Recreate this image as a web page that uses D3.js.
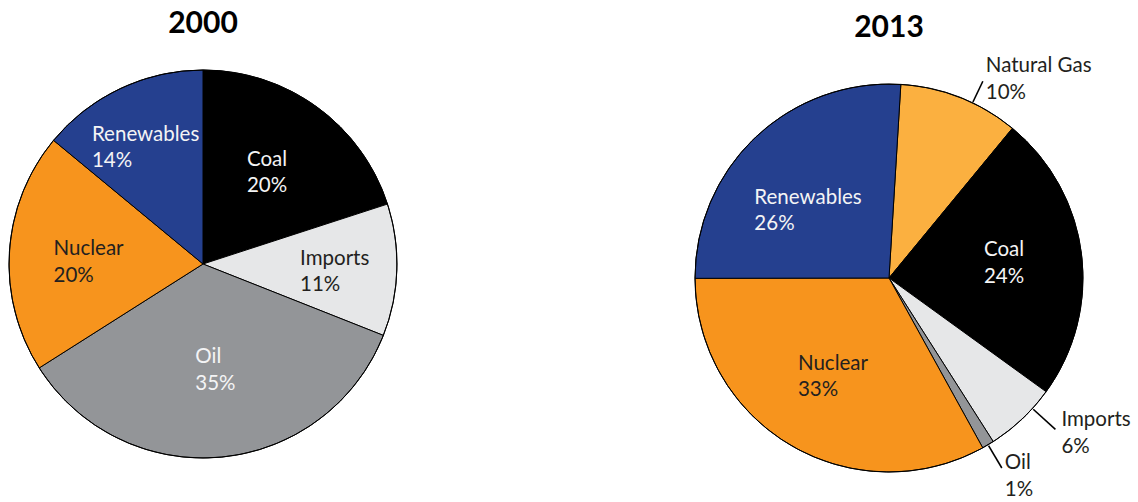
<!DOCTYPE html>
<html>
<head>
<meta charset="utf-8">
<script src="https://cdn.jsdelivr.net/npm/d3@7/dist/d3.min.js"></script>
<style>
  html, body { margin: 0; padding: 0; background: #fff; }
  svg { display: block; }
  text { font-family: Lato, "Open Sans", sans-serif; }
</style>
</head>
<body>
<svg id="chart" width="1138" height="502"></svg>
<script>
// Energy supply shares (%) by source
const titles = ["2000", "2013"];

const categories2000 = ["Coal", "Imports", "Oil", "Nuclear", "Renewables"];
const shares2000 = [20, 11, 35, 20, 14];

const categories2013 = ["Natural Gas", "Coal", "Imports", "Oil", "Nuclear", "Renewables"];
const shares2013 = [10, 24, 6, 1, 33, 26];

const sourceColors = {
  "Coal": "#000000",
  "Imports": "#e6e7e8",
  "Oil": "#939598",
  "Nuclear": "#f7941d",
  "Renewables": "#25408f",
  "Natural Gas": "#fbb040"
};
const darkText = "#231f20";
const lightText = "#f4f4f5";
const lightSources = new Set(["Imports", "Nuclear", "Natural Gas"]);

// Layout of the two pies; label nudges are in degrees, rf is a fraction of the radius
const pies = [
  {
    title: titles[0], categories: categories2000, shares: shares2000,
    cx: 203, cy: 264, r: 194, titleY: 33, startDeg: 0,
    labels: {
      "Coal":       { nudge: -1,   rf: 0.576 },
      "Imports":    { nudge: 1.4,  rf: 0.68 },
      "Oil":        { nudge: -1.3, rf: 0.55 },
      "Nuclear":    { nudge: -2.4, rf: 0.59 },
      "Renewables": { nudge: -1,   rf: 0.67 }
    }
  },
  {
    title: titles[1], categories: categories2013, shares: shares2013,
    cx: 889, cy: 278, r: 194, titleY: 37, startDeg: 3.5,
    labels: {
      "Natural Gas": { outside: true, nudge: 4,    len: 24, dx: 3, dy: -9 },
      "Coal":        { nudge: -0.2, rf: 0.598 },
      "Imports":     { outside: true, nudge: -4.4, len: 31, dx: 6, dy: -3 },
      "Oil":         { outside: true, nudge: 0,    len: 27, dx: 3, dy: 1 },
      "Nuclear":     { nudge: -0.8, rf: 0.583 },
      "Renewables":  { nudge: -6.8, rf: 0.544 }
    }
  }
];

const fontSize = 20.5;
const lineGap = 26.5;
const svg = d3.select("#chart");

pies.forEach(p => {
  const data = p.categories.map((c, i) => ({ name: c, value: p.shares[i] }));
  const start = p.startDeg * Math.PI / 180;
  const pie = d3.pie().sort(null).value(d => d.value)
    .startAngle(start).endAngle(start + 2 * Math.PI);
  const arcs = pie(data);
  const arc = d3.arc().innerRadius(0).outerRadius(p.r);

  const g = svg.append("g").attr("transform", `translate(${p.cx},${p.cy})`);

  g.selectAll("path.slice")
    .data(arcs)
    .join("path")
    .attr("class", "slice")
    .attr("d", arc)
    .attr("fill", d => sourceColors[d.data.name])
    .attr("stroke", "#000")
    .attr("stroke-width", 1)
    .attr("stroke-linejoin", "round");

  g.append("circle")
    .attr("r", p.r)
    .attr("fill", "none")
    .attr("stroke", "#000")
    .attr("stroke-width", 1);

  // Year title
  svg.append("text")
    .attr("x", p.cx)
    .attr("y", p.titleY)
    .attr("text-anchor", "middle")
    .attr("font-size", 30)
    .attr("font-weight", 700)
    .attr("fill", "#000")
    .text(p.title);

  arcs.forEach(d => {
    const cfg = p.labels[d.data.name];
    const mid = (d.startAngle + d.endAngle) / 2 + cfg.nudge * Math.PI / 180;
    const sx = Math.sin(mid), sy = -Math.cos(mid);
    const lines = [d.data.name, d.data.value + "%"];

    if (cfg.outside) {
      const r0 = p.r + 1, r1 = p.r + cfg.len;
      g.append("line")
        .attr("x1", sx * r0).attr("y1", sy * r0)
        .attr("x2", sx * r1).attr("y2", sy * r1)
        .attr("stroke", "#000")
        .attr("stroke-width", 1.6);
      const t = g.append("text")
        .attr("font-size", fontSize)
        .attr("fill", darkText);
      lines.forEach((ln, i) => {
        t.append("tspan")
          .attr("x", sx * r1 + cfg.dx)
          .attr("y", sy * r1 + cfg.dy + i * lineGap)
          .text(ln);
      });
    } else {
      const px = sx * p.r * cfg.rf, py = sy * p.r * cfg.rf;
      const t = g.append("text")
        .attr("font-size", fontSize)
        .attr("fill", lightSources.has(d.data.name) ? darkText : lightText);
      const spans = lines.map((ln, i) =>
        t.append("tspan").attr("y", py - 6.5 + i * lineGap).text(ln));
      const w = d3.max(spans, s => s.node().getComputedTextLength());
      spans.forEach(s => s.attr("x", px - w / 2));
    }
  });
});
</script>
</body>
</html>
